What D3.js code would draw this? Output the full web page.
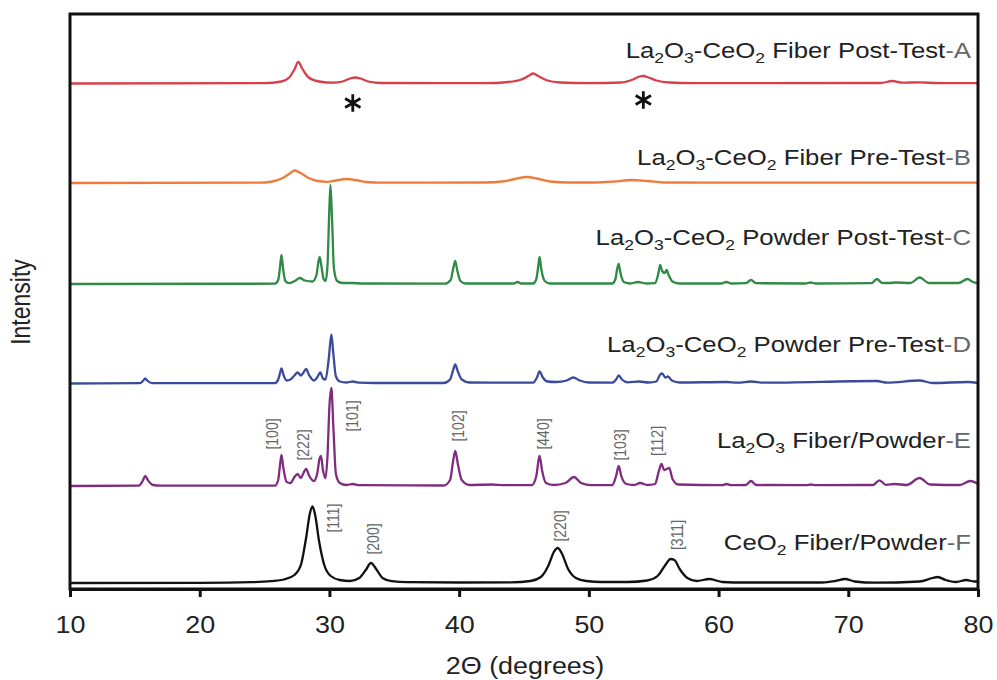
<!DOCTYPE html>
<html>
<head>
<meta charset="utf-8">
<script src="https://cdn.jsdelivr.net/npm/d3@7/dist/d3.min.js"></script>
<style>
	body { margin: 0; background: #fff; }
	text { font-family: "Liberation Sans", Arial, sans-serif; }
</style>
</head>
<body>
<div id="chart"></div>
<script>
(function () {
	"use strict";

	// x axis ticks (2 theta, degrees)
	var xTicks = [10, 20, 30, 40, 50, 60, 70, 80];

	// pattern names, top to bottom ("_n" = subscript, "|" = suffix)
	var seriesNames = [
		"La_2O_3-CeO_2 Fiber Post-Test|-A",
		"La_2O_3-CeO_2 Fiber Pre-Test|-B",
		"La_2O_3-CeO_2 Powder Post-Test|-C",
		"La_2O_3-CeO_2 Powder Pre-Test|-D",
		"La_2O_3 Fiber/Powder|-E",
		"CeO_2 Fiber/Powder|-F"
	];

	// vertical offset of each pattern (a.u.)
	var offsets = [505.5, 406, 305, 205.5, 103, 6];

	// [2theta, intensity above own baseline]
	var seriesA = [[10,0],[25.0,0.3],[26.3,2],[26.9,6],[27.3,14],[27.6,21.5],[27.9,15],[28.4,6],[29.2,2],[30.3,0.8],
		[31.0,2],[31.6,5],[32.0,6],[32.4,5],[33.0,2],[34.0,0.5],[42.0,0.3],[43.8,1.5],[44.8,4],[45.4,8],[45.7,10],
		[46.1,7.5],[46.8,3],[47.8,1],[50,0.3],[52.5,1],[53.4,4],[53.9,7],[54.2,7.5],[54.6,6],[55.2,3],[56.2,1],
		[58,0.3],[72.5,0.5],[73.4,2.5],[74.2,0.8],[75.5,1.2],[77,0.3],[80,0.3]];

	var seriesB = [[10,0],[24.5,0.3],[25.6,1.5],[26.4,5],[27.0,10],[27.3,12.5],[27.7,10.5],[28.4,5],[29.1,2],[29.8,1.2],
		[30.5,2.5],[31.3,4],[32.0,3],[32.8,1],[34,0.3],[42,0.5],[43.3,1.5],[44.3,4],[45.2,6],[46.0,4.5],[47.0,1.5],
		[48.5,0.5],[50.5,0.5],[52.0,1.5],[53.3,3],[54.5,2],[56,0.5],[60,0.3],[80,0.3]];

	var seriesC = [[10,0],[25.8,0.3],[26.05,4],[26.2,18],[26.3,29],[26.42,16],[26.6,3],[26.9,0.8],[27.4,3.5],[27.7,6],
		[28.1,3.5],[28.7,2.5],[29.0,9],[29.15,22],[29.25,27],[29.38,18],[29.55,5],[29.7,3],[29.85,18],[29.98,70],
		[30.08,99],[30.2,65],[30.35,15],[30.6,3],[31,1],[31.8,1],[32.5,0.5],[38.9,0.3],[39.35,4],[39.55,16],[39.7,23],
		[39.85,14],[40.1,3],[40.5,0.5],[44.2,0.5],[44.5,2],[44.8,0.5],[45.7,0.5],[45.95,5],[46.1,18],[46.2,27],
		[46.32,16],[46.6,3],[47,0.5],[51.8,0.5],[52.05,5],[52.18,15],[52.3,20],[52.42,12],[52.7,2],[53.2,0.5],
		[53.8,2],[54.4,0.5],[55.1,0.8],[55.35,10],[55.5,19],[55.65,13],[55.85,11],[56.0,14],[56.15,9],[56.5,2],
		[57,0.5],[60.2,0.5],[60.6,2],[61,0.5],[62.1,0.8],[62.5,4],[62.9,0.8],[66.7,0.5],[67.1,1.5],[67.5,0.5],
		[71.8,0.8],[72.2,5],[72.6,1.2],[73.2,1],[73.6,1.5],[74.8,1],[75.5,6.5],[76.2,1],[78.5,1],[79.2,5],[79.6,2],[80,1]];

	var seriesD = [[10,0],[15.4,0.3],[15.65,3],[15.8,5],[15.95,3],[16.3,0.3],[25.8,0.3],[26.05,4],[26.2,11],[26.3,15],
		[26.45,9],[26.7,3],[27.0,4],[27.3,8],[27.55,11],[27.8,8],[28.0,11],[28.2,14.5],[28.45,8],[28.8,3],[29.05,6],
		[29.3,11],[29.5,5],[29.7,4],[29.95,25],[30.15,49],[30.3,30],[30.5,7],[30.8,2],[31.3,1],[31.8,2],[32.3,0.8],
		[33.5,0.5],[38.8,0.5],[39.3,4],[39.55,14],[39.7,19],[39.9,12],[40.2,4],[40.8,1],[42.5,0.8],[43.5,0.8],
		[45.7,0.8],[46.0,6],[46.2,12],[46.45,6],[46.8,2],[47.5,1.5],[48.3,3],[48.8,6],[49.3,3],[50,1],[51.8,0.8],
		[52.1,4],[52.3,8],[52.55,4],[53,1.2],[53.9,2],[54.6,1],[55.2,2],[55.5,9],[55.65,10],[55.9,6],[56.1,7],
		[56.4,3],[57,1],[60.6,1.5],[61.5,0.8],[62.5,2],[63.5,0.8],[72.2,2.5],[73,0.8],[75.5,3],[76.5,0.5],
		[79.2,1.5],[80,0.5]];

	var seriesE = [[10,0],[15.3,0.3],[15.6,5],[15.8,10],[16.0,6],[16.4,1],[17,0.3],[25.8,0.3],[26.05,6],[26.2,22],
		[26.3,31],[26.45,18],[26.7,4],[27.0,3],[27.3,9],[27.55,12],[27.8,8],[28.0,13],[28.2,17],[28.45,10],[28.8,5],
		[29.05,12],[29.25,28],[29.35,30],[29.5,16],[29.7,8],[29.85,30],[30.0,80],[30.15,98],[30.3,60],[30.5,12],
		[30.8,3],[31.3,1],[31.8,2],[32.3,0.8],[38.8,0.5],[39.3,6],[39.55,26],[39.7,35],[39.9,22],[40.2,6],[40.8,1],
		[42.5,1.5],[43.5,0.8],[45.6,0.8],[45.95,10],[46.1,24],[46.2,30],[46.4,15],[46.7,3],[47.3,1],[48.2,3],
		[48.85,9],[49.4,3],[50.2,0.8],[51.8,0.8],[52.1,10],[52.3,20],[52.5,10],[52.9,2],[53.5,1],[53.95,3],[54.5,1],
		[55.1,2],[55.4,15],[55.6,22],[55.8,16],[56.0,17],[56.2,18],[56.45,7],[56.9,1.5],[60.3,0.8],[60.6,2],
		[61.0,0.8],[62.1,1],[62.5,5],[62.9,1],[66.8,0.8],[67.1,1.5],[67.5,0.8],[71.9,1],[72.4,5.7],[72.9,1.2],
		[73.6,2],[74.5,1],[75.5,8],[76.3,1.5],[78.6,1],[79.4,5],[80,2]];

	var seriesF = [[10,0],[20,0.2],[24,0.8],[25.5,1.8],[26.5,3.5],[27.3,8],[27.8,18],[28.2,45],[28.5,70],[28.7,76.6],
		[28.9,68],[29.2,42],[29.6,18],[30.1,7],[30.8,3],[31.6,2],[32.3,5],[32.8,13],[33.2,20],[33.6,14],[34.1,5],
		[34.8,1.8],[36,0.8],[40,0.5],[44,0.7],[45.5,2],[46.3,6],[46.9,18],[47.3,31],[47.6,35],[47.9,30],[48.4,14],
		[49.0,5],[49.8,2],[51,1],[53,1],[54.5,2.5],[55.3,7],[55.9,18],[56.3,24],[56.6,23],[57.0,14],[57.6,5],
		[58.3,2],[59.3,4],[60.3,1],[62,0.5],[68,0.5],[69.0,2],[69.75,4],[70.5,1.5],[72,0.3],[75.5,1.5],[76.5,5],
		[76.9,6],[77.5,3],[78.3,1],[79.1,3],[79.7,1.5],[80,1.5]];

	var allSeries = [seriesA, seriesB, seriesC, seriesD, seriesE, seriesF];

	// Miller index labels: [label, 2theta, intensity]
	var hklLabels = [
		["[100]", 25.57, 155], ["[222]", 27.96, 144], ["[101]", 31.74, 173], ["[102]", 39.91, 163],
		["[440]", 46.47, 155], ["[103]", 52.40, 144], ["[112]", 55.25, 148],
		["[111]", 30.28, 71], ["[200]", 33.36, 50], ["[220]", 47.78, 63], ["[311]", 56.80, 54]
	];

	// impurity markers: [2theta, intensity]
	var starMarks = [[31.8, 486], [54.2, 489]];

	var colors = ["#d7404a", "#ee7b3a", "#2e8a45", "#3b4a9a", "#7f2c7f", "#111111"];
	var labelBaselines = [58, 165, 245, 352, 448, 550];
	var stretch = 1.17;

	var width = 997, height = 680,
		left = 70, right = 978, top = 14, bottom = 589;

	var svg = d3.select("#chart").append("svg")
		.attr("width", width)
		.attr("height", height);

	var x = d3.scaleLinear().domain([10, 80]).range([left, right]);
	var y = d3.scaleLinear().domain([0, 575]).range([bottom, top]);

	// traces
	allSeries.forEach(function (data, i) {
		var line = d3.line()
			.x(function (d) { return x(d[0]); })
			.y(function (d) { return y(d[1] + offsets[i]); })
			.curve(d3.curveMonotoneX);
		svg.append("path")
			.datum(data)
			.attr("d", line)
			.attr("fill", "none")
			.attr("stroke", colors[i])
			.attr("stroke-width", 2.3)
			.attr("stroke-linejoin", "round");
	});

	// frame
	svg.append("rect")
		.attr("x", left).attr("y", top)
		.attr("width", right - left).attr("height", bottom - top)
		.attr("fill", "none")
		.attr("stroke", "#111")
		.attr("stroke-width", 3);

	// x axis
	var xAxis = svg.append("g")
		.attr("transform", "translate(0," + bottom + ")")
		.call(d3.axisBottom(x).tickValues(xTicks).tickSize(8).tickSizeOuter(0).tickPadding(20));
	xAxis.select(".domain").attr("stroke", "#111").attr("stroke-width", 3);
	xAxis.selectAll(".tick line").attr("stroke", "#111").attr("stroke-width", 3);
	xAxis.selectAll(".tick text")
		.attr("fill", "#222")
		.attr("transform", "scale(" + stretch + ",1)")
		.style("font-size", "23px")
		.style("font-family", "'Liberation Sans', Arial, sans-serif");

	svg.append("text")
		.attr("transform", "translate(525,674) scale(" + stretch + ",1)")
		.attr("text-anchor", "middle")
		.attr("fill", "#222")
		.style("font-size", "23px")
		.text("2\u0398 (degrees)");

	svg.append("text")
		.attr("transform", "translate(30,302) rotate(-90) scale(1," + stretch + ")")
		.attr("text-anchor", "middle")
		.attr("fill", "#222")
		.style("font-size", "23px")
		.text("Intensity");

	// pattern labels with subscripts
	function richText(sel, str, size) {
		var pieces = str.split("|"),
			parts = pieces[0].split(/(_\d)/),
			shift = 0;
		parts.forEach(function (p) {
			if (!p) return;
			if (p.charAt(0) === "_") {
				sel.append("tspan").attr("dy", 5 - shift)
					.style("font-size", Math.round(size * 0.7) + "px").text(p.slice(1));
				shift = 5;
			} else {
				sel.append("tspan").attr("dy", -shift).text(p);
				shift = 0;
			}
		});
		if (pieces[1]) {
			sel.append("tspan").attr("dy", -shift).attr("fill", "#666").text(pieces[1]);
		}
	}

	seriesNames.forEach(function (name, i) {
		var t = svg.append("text")
			.attr("transform", "translate(971," + labelBaselines[i] + ") scale(" + stretch + ",1)")
			.attr("text-anchor", "end")
			.attr("fill", "#222")
			.style("font-size", "22px");
		richText(t, name, 22);
	});

	// hkl labels
	svg.selectAll(".hkl")
		.data(hklLabels)
		.enter().append("text")
		.attr("class", "hkl")
		.attr("transform", function (d) {
			return "translate(" + x(d[1]) + "," + y(d[2]) + ") rotate(-90) scale(1," + stretch + ")";
		})
		.attr("text-anchor", "middle")
		.attr("dy", "0.35em")
		.attr("fill", "#666")
		.style("font-size", "14px")
		.text(function (d) { return d[0]; });

	// asterisks
	svg.selectAll(".star")
		.data(starMarks)
		.enter().append("path")
		.attr("class", "star")
		.attr("transform", function (d) { return "translate(" + x(d[0]) + "," + y(d[1]) + ")"; })
		.attr("d", d3.symbol(d3.symbolAsterisk, 220))
		.attr("fill", "none")
		.attr("stroke", "#111")
		.attr("stroke-width", 2.8);
})();
</script>
</body>
</html>
